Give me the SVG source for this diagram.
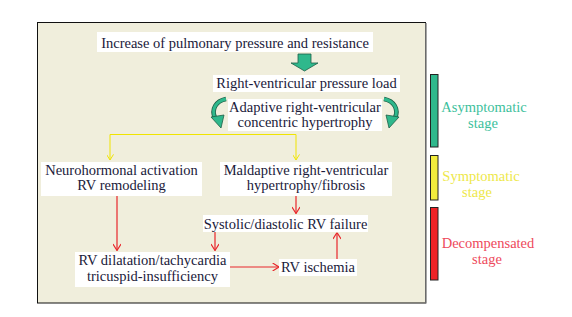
<svg xmlns="http://www.w3.org/2000/svg" width="572" height="317" viewBox="0 0 572 317">
<defs>
<style>
text{font-family:'Liberation Serif','Times New Roman',Times,serif}
.t{font-size:14.5px;fill:#1a1a3a;text-anchor:middle}
.s{font-size:14.5px;text-anchor:middle}
.bx{fill:#ffffff}
.y{stroke:#f0e400;stroke-width:1;fill:none}
.r{stroke:#e8262a;stroke-width:1.2;fill:none}
.bar{stroke:#222;stroke-width:1}
.ga{fill:#2fb88c;stroke:#1d5e46;stroke-width:0.8}
</style>
<marker id="ay" viewBox="0 0 10 10" refX="10" refY="5" markerWidth="7" markerHeight="7" markerUnits="userSpaceOnUse" orient="auto">
<path d="M2,0 L10,5 L2,10" fill="none" stroke="#f0e400" stroke-width="1.4"/>
</marker>
<marker id="ar" viewBox="0 0 10 10" refX="10" refY="5" markerWidth="8" markerHeight="8" markerUnits="userSpaceOnUse" orient="auto">
<path d="M2,0 L10,5 L2,10" fill="none" stroke="#e8262a" stroke-width="1.4"/>
</marker>
</defs>
<rect width="572" height="317" fill="#ffffff"/>
<g id="frame">
<rect x="37.5" y="22.5" width="388" height="280.5" fill="#f0eedc" stroke="#111" stroke-width="1"/>
<line x1="426" y1="23" x2="426" y2="303.5" stroke="#888" stroke-width="1.5"/>
</g>
<g id="connectors">
<path class="ga" d="M298,54 L311,54 L311,63 L318,63 L304.5,71 L291,63 L298,63 Z"/>
<path d="M226,99 C216,101 211,109 215,118" fill="none" stroke="#1d5e46" stroke-width="4.6"/>
<path d="M226,99 C216,101 211,109 215,118" fill="none" stroke="#2fb88c" stroke-width="3"/>
<polygon class="ga" points="211,117 224,115 221,128"/>
<path d="M384,99 C394,101 399,109 395,118" fill="none" stroke="#1d5e46" stroke-width="4.6"/>
<path d="M384,99 C394,101 399,109 395,118" fill="none" stroke="#2fb88c" stroke-width="3"/>
<polygon class="ga" points="399,117 386,115 389,128"/>
<path class="y" d="M110,134.5 L296,134.5 L296,160" marker-end="url(#ay)"/>
<path class="y" d="M110,134.5 L110,160" marker-end="url(#ay)"/>
<path class="r" d="M296,196 L296,213.5" marker-end="url(#ar)"/>
<path class="r" d="M117,196 L117,250.5" marker-end="url(#ar)" stroke="#f05a64"/>
<path class="r" d="M215,232 L215,250.5" marker-end="url(#ar)"/>
<path class="r" d="M230,267 L279,267" marker-end="url(#ar)"/>
<path class="r" d="M337,259 L337,232.5" marker-end="url(#ar)"/>
</g>
<g id="n1">
<rect class="bx" x="97" y="32" width="276" height="20"/>
<text class="t" x="235" y="47.5">Increase of pulmonary pressure and resistance</text>
</g>
<g id="n2">
<rect class="bx" x="213" y="75" width="187" height="17"/>
<text class="t" x="306.5" y="88">Right-ventricular pressure load</text>
</g>
<g id="n3">
<rect class="bx" x="228" y="99" width="154" height="32"/>
<text class="t" x="305" y="112">Adaptive right-ventricular</text>
<text class="t" x="305" y="127">concentric hypertrophy</text>
</g>
<g id="n4">
<rect class="bx" x="41" y="162" width="161" height="34"/>
<text class="t" x="121.5" y="175">Neurohormonal activation</text>
<text class="t" x="121.5" y="190">RV remodeling</text>
</g>
<g id="n5">
<rect class="bx" x="220" y="162" width="172" height="34"/>
<text class="t" x="306" y="175">Maldaptive right-ventricular</text>
<text class="t" x="306" y="190">hypertrophy/fibrosis</text>
</g>
<g id="n6">
<rect class="bx" x="203" y="215" width="165" height="17"/>
<text class="t" x="285.5" y="228.5">Systolic/diastolic RV failure</text>
</g>
<g id="n7">
<rect class="bx" x="75" y="252" width="155" height="35"/>
<text class="t" x="152.5" y="265">RV dilatation/tachycardia</text>
<text class="t" x="152.5" y="280.5">tricuspid-insufficiency</text>
</g>
<g id="n8">
<rect class="bx" x="279" y="259" width="78" height="17"/>
<text class="t" x="318" y="272">RV ischemia</text>
</g>
<g id="stage1">
<rect class="bar" x="430.5" y="74.5" width="7.5" height="72.5" fill="#2fb88c"/>
<text class="s" x="484" y="112" fill="#3dbf9c">Asymptomatic</text>
<text class="s" x="483" y="128" fill="#3dbf9c">stage</text>
</g>
<g id="stage2">
<rect class="bar" x="430.5" y="155.5" width="7.5" height="44.5" fill="#f2ec3c"/>
<text class="s" x="481" y="181" fill="#eee84a">Symptomatic</text>
<text class="s" x="477" y="197" fill="#eee84a">stage</text>
</g>
<g id="stage3">
<rect class="bar" x="430.5" y="207.5" width="7.5" height="72.5" fill="#ee2226"/>
<text class="s" x="488" y="248" fill="#ee4a5c">Decompensated</text>
<text class="s" x="487" y="264" fill="#ee4a5c">stage</text>
</g>
</svg>
